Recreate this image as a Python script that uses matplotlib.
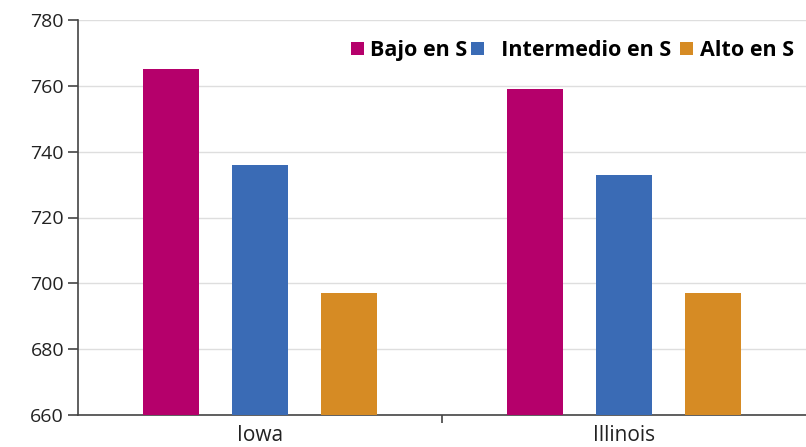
import numpy as np
import matplotlib.pyplot as plt
from matplotlib.patches import Patch

states = ["Iowa", "Illinois"]
series_names = ["Bajo en S", "  Intermedio en S ", "Alto en S"]
bajo = [765, 759]
intermedio = [736, 733]
alto = [697, 697]
y_ticks = [660, 680, 700, 720, 740, 760, 780]

colors = ["#B5006B", "#3A6BB5", "#D68B24"]

plt.rcParams["font.family"] = ["Open Sans", "DejaVu Sans"]

fig = plt.figure(figsize=(8.06, 4.47), dpi=100)
ax = fig.add_axes([78 / 806, 1 - 415 / 447, 1 - 78 / 806, (415 - 20) / 447])

x = np.arange(len(states))
width = 0.153
offsets = [-0.244, 0, 0.244]
for vals, off, c in zip([bajo, intermedio, alto], offsets, colors):
    ax.bar(x + off, np.array(vals) - 660, width, bottom=660, color=c, zorder=3)

ax.set_ylim(660, 780)
ax.set_xlim(-0.5, 1.5)
ax.set_yticks(y_ticks)
ax.yaxis.grid(True, color="#dedede", linewidth=1, zorder=0)

# category labels at centres, a tick only between the groups
ax.set_xticks(x)
ax.set_xticklabels(states)
ax.set_xticks([0.5], minor=True)
ax.tick_params(axis="x", which="major", length=0, pad=7, labelsize=15, colors="#222222")
ax.tick_params(axis="x", which="minor", length=6, width=1.2, color="#444444")
ax.tick_params(axis="y", length=7, width=1.2, color="#444444", labelsize=14,
               labelcolor="#222222", pad=3)

for s in ["top", "right"]:
    ax.spines[s].set_visible(False)
ax.spines["left"].set_color("#444444")
ax.spines["left"].set_linewidth(1.2)
ax.spines["bottom"].set_color("#444444")
ax.spines["bottom"].set_linewidth(1.2)

handles = [Patch(facecolor=c, edgecolor="none") for c in colors]
leg = ax.legend(handles, series_names, ncol=3, loc="upper left",
                bbox_to_anchor=(351 / 806, 1 - 40 / 447),
                bbox_transform=fig.transFigure, frameon=False,
                borderpad=0, borderaxespad=0, handlelength=0.6,
                handleheight=0.6, handletextpad=0.3, columnspacing=0.15,
                prop={"weight": "bold", "size": 15.5})

fig.savefig("out.png", dpi=100)
